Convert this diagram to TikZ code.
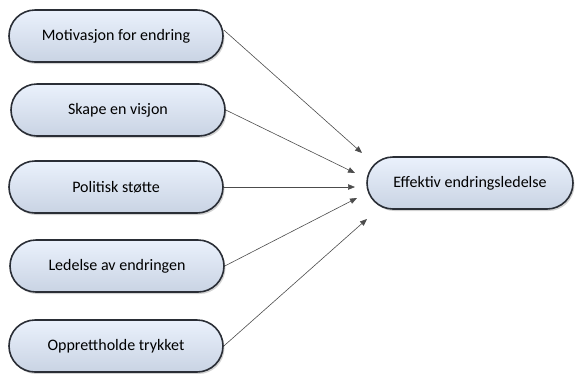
\documentclass[tikz,border=0pt]{standalone}
\usepackage{fontspec}
\setmainfont{Carlito}
\usetikzlibrary{arrows.meta,shadows}
\definecolor{boxfill}{HTML}{D6E2F5}
\definecolor{boxtop}{HTML}{EAF1FC}
\definecolor{boxedge}{HTML}{2A2E36}
\begin{document}
\begin{tikzpicture}[x=1pt,y=-1pt,
  pill/.style={draw=boxedge, line width=1.6pt, rounded corners=26pt,
    minimum width=214pt, minimum height=52pt, inner sep=0pt,
    top color=boxtop, bottom color=boxfill!85!gray,
    drop shadow={shadow xshift=1.5pt, shadow yshift=-2pt, opacity=0.35},
    font=\fontsize{16}{18}\selectfont},
  link/.style={draw=black!70, line width=0.6pt, -{Triangle[length=7pt,width=5.5pt]}}]
\useasboundingbox (0,0) rectangle (577,373);
\node[pill] (m) at (116,36) {Motivasjon for endring};
\node[pill] (s) at (118,110) {Skape en visjon};
\node[pill] (p) at (116,187) {Politisk støtte};
\node[pill] (l) at (117,266) {Ledelse av endringen};
\node[pill] (o) at (116,346) {Opprettholde trykket};
\node[pill, minimum width=206pt] (e) at (470,183) {Effektiv endringsledelse};
\coordinate (t1) at (362,153);
\coordinate (t2) at (355,173);
\coordinate (t3) at (355,187);
\coordinate (t4) at (357,198);
\coordinate (t5) at (367,219);
\draw[link] (m.east) ++(0,-6) coordinate (s1) (s1) -- (t1);
\draw[link] (s.east) -- (t2);
\draw[link] (p.east) -- (t3);
\draw[link] (l.east) -- (t4);
\draw[link] (o.east) -- (t5);
\end{tikzpicture}
\end{document}
